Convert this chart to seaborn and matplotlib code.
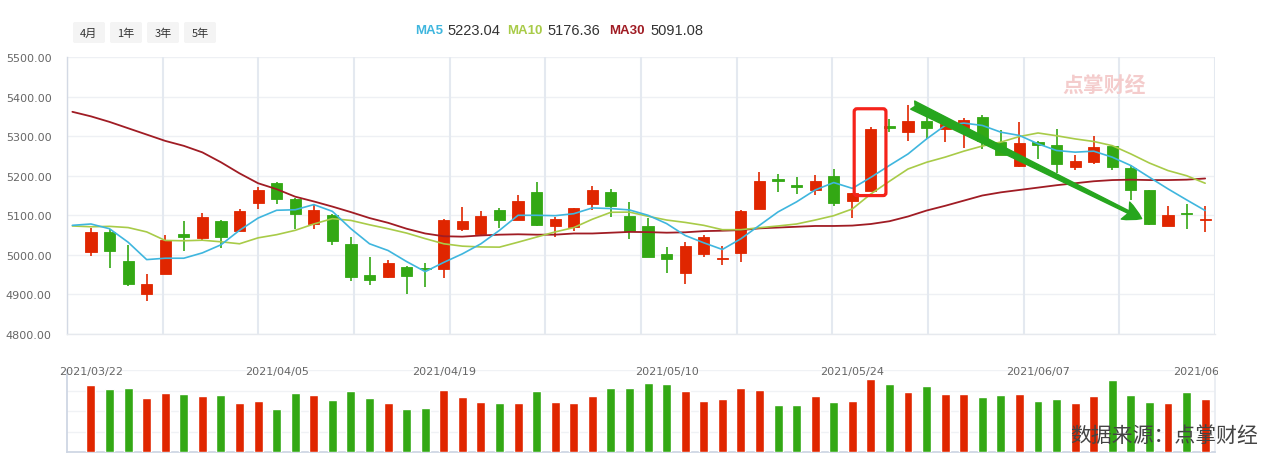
import numpy as np
import pandas as pd
import matplotlib
matplotlib.use("Agg")
import matplotlib.pyplot as plt
import seaborn as sns
from matplotlib.patches import FancyBboxPatch
from matplotlib.transforms import Bbox, TransformedBbox, blended_transform_factory

# ---------------- data ----------------
opens = [5006.0, 5058.5, 4984.7, 4901.7, 4952.5, 5053.4, 5041.5, 5086.4, 5059.3, 5130.5,
         5180.5, 5142.4, 5077.1, 5101.7, 5028.0, 4949.2, 4944.9, 4969.5, 4967.0, 4965.3,
         5066.1, 5052.5, 5114.4, 5088.1, 5157.6, 5073.7, 5071.2, 5128.0, 5157.6, 5099.1,
         5073.7, 5001.7, 4955.0, 5003.4, 4990.7, 5005.9, 5115.3, 5192.4, 5175.4, 5165.0,
         5199.6, 5137.1, 5162.4, 5325.3, 5309.3, 5338.8, 5316.9, 5319.4, 5348.9, 5284.8,
         5225.7, 5284.8, 5277.2, 5223.2, 5235.9, 5274.7, 5219.8, 5164.1, 5073.8, 5106.8,
         5087.3]
closes = [5057.6, 5008.5, 4927.1, 4926.3, 5038.1, 5045.8, 5096.6, 5045.8, 5111.9, 5162.7,
          5140.7, 5102.5, 5114.4, 5033.9, 4944.9, 4937.3, 4979.7, 4947.5, 4965.0, 5089.0,
          5085.6, 5099.1, 5087.3, 5137.3, 5076.3, 5091.5, 5119.5, 5164.4, 5122.9, 5059.3,
          4995.8, 4990.7, 5022.9, 5045.8, 4992.4, 5111.9, 5185.6, 5186.4, 5171.2, 5186.9,
          5132.1, 5156.5, 5318.6, 5320.3, 5338.8, 5319.4, 5330.4, 5341.4, 5288.2, 5252.7,
          5282.3, 5276.4, 5230.8, 5237.6, 5273.0, 5223.2, 5165.0, 5078.9, 5100.8, 5102.5,
          5090.7]
highs = [5068.6, 5066.0, 5025.4, 4951.7, 5050.8, 5086.4, 5106.8, 5088.0, 5117.0, 5170.3,
         5183.9, 5143.5, 5128.0, 5103.0, 5045.8, 4994.9, 4986.4, 4971.0, 4978.8, 5090.5,
         5122.0, 5111.9, 5119.5, 5150.0, 5183.9, 5096.6, 5119.5, 5172.9, 5165.3, 5134.7,
         5093.2, 5020.3, 5032.2, 5050.0, 5022.9, 5114.4, 5208.5, 5203.4, 5195.8, 5202.9,
         5217.3, 5156.5, 5323.6, 5343.9, 5379.3, 5356.5, 5332.1, 5344.7, 5354.0, 5316.0,
         5335.4, 5286.5, 5318.6, 5252.7, 5300.0, 5276.4, 5226.6, 5164.1, 5123.6, 5128.7,
         5123.6]
lows = [4998.3, 4967.8, 4920.3, 4883.9, 4952.5, 5011.0, 5033.9, 5016.1, 5059.3, 5117.0,
        5128.0, 5066.1, 5064.4, 5023.7, 4934.7, 4923.7, 4942.4, 4901.7, 4919.5, 4942.4,
        5059.3, 5050.8, 5068.6, 5088.1, 5073.7, 5044.1, 5061.0, 5114.4, 5096.6, 5039.0,
        4995.8, 4955.0, 4927.1, 4995.8, 4975.4, 4983.0, 5115.3, 5158.5, 5153.4, 5152.3,
        5124.5, 5094.1, 5162.4, 5309.3, 5286.5, 5291.6, 5284.0, 5270.5, 5267.9, 5252.7,
        5223.2, 5242.6, 5208.0, 5214.8, 5230.8, 5215.6, 5138.8, 5076.4, 5073.8, 5066.2,
        5058.6]
volumes = [196, 184, 187, 157, 172, 169, 163, 166, 142, 148,
           127, 172, 166, 151, 178, 157, 142, 127, 130, 181,
           160, 145, 142, 142, 178, 145, 142, 163, 187, 187,
           202, 199, 178, 148, 154, 187, 181, 139, 139, 163,
           145, 148, 214, 199, 175, 193, 169, 169, 160, 166,
           169, 148, 154, 142, 163, 211, 166, 145, 142, 175,
           154]
# moving-average lines (first point belongs to the day before the first candle)
ma_days = list(range(-1, 61))
ma5 = [5074.6, 5078, 5066, 5032, 4988, 4991.5, 4991.5, 5005, 5025.4, 5062, 5093,
       5112.7, 5114, 5127, 5110, 5066, 5028, 5011, 4983, 4957.6, 4981,
       5002.5, 5028, 5062, 5100, 5100, 5099, 5104, 5118.6, 5117, 5113.5,
       5100, 5079, 5049, 5030.5, 5013.6, 5040.7, 5074.6, 5108.5, 5134, 5164,
       5182.7, 5168, 5196, 5226, 5255, 5293, 5327, 5333, 5327, 5310,
       5301.7, 5280.6, 5263.7, 5259.5, 5262, 5246.8, 5225.7, 5196, 5166.7, 5139,
       5112]
ma10 = [5073, 5071, 5072, 5069, 5058, 5036.4, 5035.6, 5037, 5033, 5028, 5043,
        5051, 5062, 5078, 5091.5, 5087, 5076, 5066, 5055, 5041, 5028,
        5022, 5020, 5019.5, 5032, 5045, 5058, 5069, 5090, 5107.6, 5108,
        5097.5, 5088, 5082, 5074.6, 5063.6, 5063.6, 5068.6, 5073, 5078, 5088,
        5099, 5116, 5154, 5186, 5217, 5234, 5247, 5262, 5275, 5285,
        5299, 5308, 5301, 5293, 5286.5, 5276, 5255, 5232, 5213, 5200,
        5181]
ma30 = [5361.5, 5350, 5336, 5320, 5304, 5288, 5275.5, 5259, 5234, 5206, 5181,
        5166, 5147, 5135, 5122, 5108, 5093, 5081, 5066, 5054, 5047,
        5046, 5049, 5051, 5052, 5051, 5051, 5054, 5054, 5056, 5058,
        5057.5, 5056, 5057, 5060, 5061, 5062.5, 5067, 5069, 5071, 5073,
        5073, 5074, 5078, 5085, 5097, 5112, 5124, 5137, 5150, 5158,
        5164, 5170, 5176, 5181, 5186, 5189, 5190, 5189, 5189, 5190,
        5193]
date_idx = [0, 10, 19, 31, 41, 51, 60]
date_labels = ["2021/03/22", "2021/04/05", "2021/04/19", "2021/05/10",
               "2021/05/24", "2021/06/07", "2021/06/21"]
y_ticks = [4800, 4900, 5000, 5100, 5200, 5300, 5400, 5500]
legend_names = ["MA5", "MA10", "MA30"]
legend_values = ["5223.04", "5176.36", "5091.08"]
period_buttons = ["4月", "1年", "3年", "5年"]

# ---------------- style ----------------
sns.set_theme(style="white")
plt.rcParams["font.family"] = ["DejaVu Sans", "Noto Sans CJK SC"]
CJK = ["Noto Sans CJK SC", "DejaVu Sans"]
LEG = ["Liberation Sans", "DejaVu Sans"]
RED = "#e02600"
GREEN = "#33a814"
C_MA5 = "#3fb6de"
C_MA10 = "#a8cb48"
C_MA30 = "#a01c24"

W, H = 1266, 456
fig = plt.figure(figsize=(W / 100, H / 100), dpi=100)
fig.patch.set_facecolor("white")


def fx(px):
    return px / W


def fy(py):
    return 1 - py / H


ax = fig.add_axes([fx(67), fy(335), fx(1215) - fx(67), fy(58) - fy(335)])
axv = fig.add_axes([fx(67), fy(453), fx(1215) - fx(67), fy(371) - fy(453)])

df = pd.DataFrame({"day": np.arange(len(opens)), "open": opens, "close": closes,
                   "high": highs, "low": lows, "volume": volumes})
df["dir"] = np.where(df["close"] >= df["open"], "up", "down")
colors = [RED if d == "up" else GREEN for d in df["dir"]]
XLIM = (-1.29, 60.53)

# ---------------- main panel ----------------
ax.set_xlim(*XLIM)
ax.set_ylim(4800, 5500)
for yv in y_ticks:
    ax.axhline(yv, color="#eef0f4", lw=1, zorder=0)
for k in range(13):
    ax.axvline(XLIM[0] + k * (XLIM[1] - XLIM[0]) / 12, color="#e4e9f0", lw=1.5, zorder=0)

ax.vlines(df["day"], df["low"], df["high"], colors=colors, lw=1.2, zorder=2)
body_bottom = np.minimum(df["open"], df["close"])
body_h = np.abs(df["close"] - df["open"])
ax.bar(df["day"], body_h, bottom=body_bottom, width=0.6, color=colors,
       edgecolor=colors, linewidth=0.6, zorder=3)

ma_df = pd.DataFrame({"day": ma_days, "MA5": ma5, "MA10": ma10, "MA30": ma30})
sns.lineplot(data=ma_df, x="day", y="MA30", ax=ax, color=C_MA30, lw=1.3, zorder=4)
sns.lineplot(data=ma_df, x="day", y="MA10", ax=ax, color=C_MA10, lw=1.2, zorder=4)
sns.lineplot(data=ma_df, x="day", y="MA5", ax=ax, color=C_MA5, lw=1.2, zorder=4)

ax.set_yticks(y_ticks)
ax.set_yticklabels([f"{v:.2f}" for v in y_ticks], fontsize=8, color="#666666")
ax.tick_params(axis="y", length=0, pad=11)
ax.set_xticks([])
ax.set_xlabel("")
ax.set_ylabel("")
for s in ["top", "right"]:
    ax.spines[s].set_visible(False)
ax.spines["left"].set_color("#d3d9e4")
ax.spines["bottom"].set_color("#e6e9ee")
ax.spines["left"].set_linewidth(1)
ax.spines["bottom"].set_linewidth(1)

# highlight box and trend arrow (annotations)
box_x = (41.1, 42.81)
box_y = (5149.8, 5369.2)
box = FancyBboxPatch((box_x[0], box_y[0]), box_x[1] - box_x[0], box_y[1] - box_y[0],
                     boxstyle="round,pad=0,rounding_size=0.15", mutation_aspect=47,
                     fc="none", ec="#f5231b", lw=2.3, zorder=6)
ax.add_patch(box)
arrow_start = (44.25, 5378.5)
arrow_end = (56.58, 5091.6)
ax.annotate("", xy=arrow_end, xytext=arrow_start,
            arrowprops=dict(arrowstyle="fancy,head_length=1.0,head_width=1.05,tail_width=0.5",
                            color="#26a61e", shrinkA=0, shrinkB=0, mutation_scale=13),
            zorder=7)

# ---------------- volume panel ----------------
sns.barplot(data=df, x="day", y="volume", hue="dir", palette={"up": RED, "down": GREEN},
            native_scale=True, width=0.48, dodge=False, saturation=1, errorbar=None,
            legend=False, ax=axv, zorder=3)
axv.set_xlim(*XLIM)
axv.set_ylim(0, 240)
for yv in [60, 120, 180, 240]:
    axv.axhline(yv, color="#f0f2f5", lw=1, zorder=0)
axv.set_xticks([])
axv.set_yticks([])
axv.set_xlabel("")
axv.set_ylabel("")
axv.spines["top"].set_visible(False)
axv.spines["left"].set_color("#cdd5e3")
axv.spines["bottom"].set_color("#cdd5e3")
axv.spines["right"].set_color("#e8ecf2")

clipbox = TransformedBbox(Bbox([[0, 0], [1218 / W, 1]]), fig.transFigure)
tr = blended_transform_factory(axv.transData, fig.transFigure)
for i, lab in zip(date_idx, date_labels):
    t = fig.text(i, fy(372), lab, transform=tr, ha="center", va="center",
                 fontsize=8, color="#666666")
    t.set_clip_box(clipbox)
    t.set_clip_on(True)

# ---------------- header ----------------
for lab, x0 in zip(period_buttons, [73, 110, 147, 184]):
    p = FancyBboxPatch((x0 / 100, (H - 44) / 100), 0.32, 0.21,
                       boxstyle="round,pad=0,rounding_size=0.02",
                       transform=fig.dpi_scale_trans, fc="#f4f4f4", ec="none")
    fig.patches.append(p)
    fig.text(fx(x0 + 16), fy(33.5), lab, ha="center", va="center", fontsize=8,
             color="#333333", family=CJK)

for name, val, col, xn, xv in zip(legend_names, legend_values, [C_MA5, C_MA10, C_MA30],
                                  [415, 507, 609], [447, 547, 650]):
    fig.text(fx(xn), fy(31), name, color=col, fontsize=9.5, fontweight="bold",
             va="center", family=LEG)
    fig.text(fx(xv), fy(31), val, color="#333333", fontsize=10.5, va="center", family=LEG)

# watermark and source
fig.text(fx(1062), fy(85), "点掌财经", fontsize=15, fontweight="bold", color="#f4cccc",
         family=CJK, va="center")
fig.text(fx(1070), fy(436), "数据来源：点掌财经", fontsize=15, color="#444444",
         family=CJK, va="center")

fig.savefig("out.png", dpi=100, facecolor="white")
